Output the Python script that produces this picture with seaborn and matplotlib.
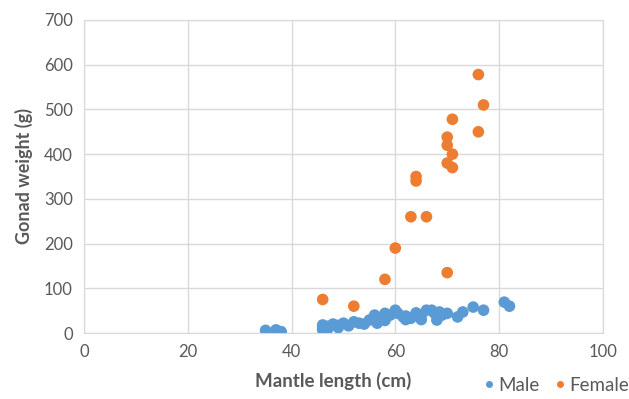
import pandas as pd
import matplotlib.pyplot as plt
import seaborn as sns

# female points (mantle length cm, gonad weight g)
female_len = [46, 52, 58, 60, 63, 66, 64, 64, 70, 70, 71, 70, 71, 70, 76, 71, 77, 76]
female_wt = [75, 60, 120, 190, 260, 260, 340, 350, 135, 380, 370, 420, 400, 438, 450, 478, 510, 578]

# male points
male_len = [35, 37, 38, 46, 46, 46, 47, 48, 49, 50, 51, 52, 53, 54, 55, 56, 56.5, 57,
            58, 59, 60, 60.5, 61.5, 62, 63, 64, 65, 66, 67, 67.5, 68, 68.5, 69, 70,
            72, 73, 75, 77, 81, 82, 47, 49, 58, 62, 65]
male_wt = [6, 7, 3, 7, 18, 12, 15, 20, 17, 22, 16, 25, 22, 20, 29, 40, 22, 33,
           44, 40, 51, 44, 36, 30, 33, 45, 40, 51, 51, 45, 29, 47, 40, 44,
           36, 47, 58, 51, 69, 60, 10, 12, 28, 38, 30]

df = pd.DataFrame({
    'Mantle length (cm)': male_len + female_len,
    'Gonad weight (g)': male_wt + female_wt,
    'Sex': ['Male'] * len(male_len) + ['Female'] * len(female_len),
})

sns.set_style('white')
plt.rcParams['font.family'] = ['Lato', 'DejaVu Sans']

fig = plt.figure(figsize=(6.29, 3.99), dpi=100)
ax = fig.add_axes([0.1335, 0.1654, 0.825, 0.7845])

sns.scatterplot(data=df, x='Mantle length (cm)', y='Gonad weight (g)', hue='Sex',
                palette={'Male': '#5B9BD5', 'Female': '#ED7D31'},
                s=70, edgecolor='none', ax=ax, zorder=3, legend=True)

ax.set_xlim(0, 100)
ax.set_ylim(0, 700)
ax.set_xticks(range(0, 101, 20))
ax.set_yticks(range(0, 701, 100))
ax.grid(True, color='#D9D9D9', linewidth=1)
ax.set_axisbelow(True)
for s in ax.spines.values():
    s.set_color('#D9D9D9')
ax.tick_params(length=0, labelsize=12, labelcolor='#595959', pad=8)
ax.set_xlabel('Mantle length (cm)', fontsize=13.5, fontweight='bold', color='#595959')
ax.set_ylabel('Gonad weight (g)', fontsize=13, fontweight='bold', color='#595959', labelpad=8)
ax.xaxis.set_label_coords(0.48, -0.125)

handles, labels = ax.get_legend_handles_labels()
ax.get_legend().remove()
fig.legend(handles, labels, loc='center right', bbox_to_anchor=(1.0, 0.035), ncol=2,
           frameon=False, fontsize=13.5, labelcolor='#595959', handletextpad=0.0,
           columnspacing=0.6, handlelength=1.0, markerscale=0.6, borderaxespad=0,
           borderpad=0)

fig.savefig('out.png', dpi=100)
